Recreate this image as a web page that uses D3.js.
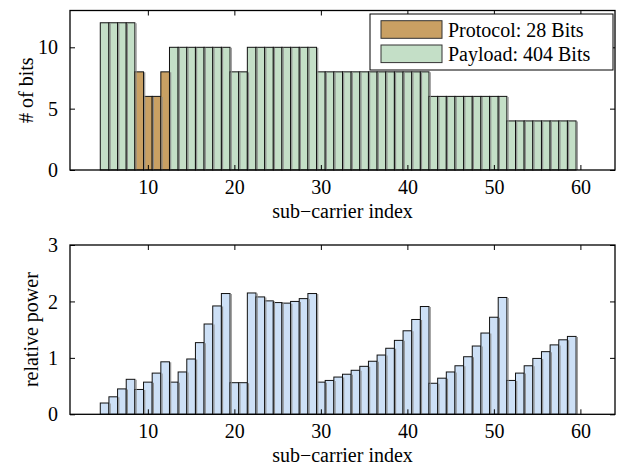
<!DOCTYPE html>
<html>
<head>
<meta charset="utf-8">
<script src="https://cdn.jsdelivr.net/npm/d3@7"></script>
<style>
  html, body { margin: 0; padding: 0; background: #fff; }
  svg { display: block; }
  text { font-family: "Liberation Serif", "Times New Roman", serif; fill: #000; }
</style>
</head>
<body>
<svg id="chart" width="620" height="469"></svg>
<script>
// ---- data ----
const subcarriers = d3.range(5, 60); // 5..59
const bitsPerCarrier = [12,12,12,12, 8,6,6,8, 10,10,10,10,10,10,10, 8,8,
  10,10,10,10,10,10,10,10, 8,8,8,8,8,8,8,8,8,8,8,8,8, 6,6,6,6,6,6,6,6,6, 4,4,4,4,4,4,4,4];
const protocolCarriers = [9, 10, 11, 12];
const relativePower = [0.20,0.31,0.45,0.62,0.44,0.57,0.73,0.93,0.57,0.75,0.98,1.27,1.60,1.92,2.14,
  0.56,0.56,2.15,2.08,2.01,1.98,1.97,2.00,2.05,2.14,
  0.57,0.60,0.66,0.71,0.78,0.85,0.94,1.05,1.17,1.31,1.48,1.68,1.91,
  0.55,0.64,0.75,0.86,1.02,1.21,1.44,1.72,2.07,
  0.60,0.73,0.86,0.99,1.11,1.23,1.32,1.38];
const xTicks = [10, 20, 30, 40, 50, 60];
const yTicksTop = [0, 5, 10];
const yTicksBottom = [0, 1, 2, 3];
const legendLabels = ["Protocol: 28 Bits", "Payload: 404 Bits"];
const xLabel = "sub\u2212carrier index";
const yLabelTop = "# of bits";
const yLabelBottom = "relative power";

// ---- styles ----
const colProtocol = "#c9a063";
const colPayload = "#c4dfc7";
const colPower = "#cde0f6";
const fontSize = 20;

const svg = d3.select("#chart");
const x = d3.scaleLinear().domain([1, 64]).range([70, 615]);

function panel(yScale, yTicks, values, colorFn, ylab, ylabX) {
  const [y0, y1] = yScale.range(); // bottom, top
  const g = svg.append("g");
  const bars = subcarriers.map((s, i) => ({ s, v: values[i] }));
  // bars
  g.selectAll("rect.bar").data(bars).join("rect")
    .attr("class", "bar")
    .attr("x", d => x(d.s - 0.5))
    .attr("width", d => x(d.s + 0.5) - x(d.s - 0.5))
    .attr("y", d => yScale(d.v))
    .attr("height", d => yScale(0) - yScale(d.v))
    .attr("fill", d => colorFn(d.s))
    .attr("stroke", "#111")
    .attr("stroke-width", 1);
  // shading line (drop shadow) right of each bar edge
  g.selectAll("line.sh").data(bars).join("line")
    .attr("class", "sh")
    .attr("x1", d => x(d.s + 0.5) + 1.2)
    .attr("x2", d => x(d.s + 0.5) + 1.2)
    .attr("y1", d => yScale(d.v) + 0.5)
    .attr("y2", d => yScale(0))
    .attr("stroke", "#8a8a8a")
    .attr("stroke-width", 1.1);

  // frame
  g.append("rect")
    .attr("x", x.range()[0]).attr("y", y1)
    .attr("width", x.range()[1] - x.range()[0]).attr("height", y0 - y1)
    .attr("fill", "none").attr("stroke", "#000").attr("stroke-width", 1.3);

  // inward ticks on all four sides
  const tl = 5;
  const axB = d3.axisBottom(x).tickValues(xTicks).tickSize(-tl).tickFormat(d3.format("d")).tickPadding(tl + 10);
  const axT = d3.axisTop(x).tickValues(xTicks).tickSize(-tl).tickFormat("");
  const axL = d3.axisLeft(yScale).tickValues(yTicks).tickSize(-tl).tickFormat(d3.format("d")).tickPadding(tl + 7);
  const axR = d3.axisRight(yScale).tickValues(yTicks).tickSize(-tl).tickFormat("");
  const gb = g.append("g").attr("transform", `translate(0,${y0})`).call(axB);
  const gt = g.append("g").attr("transform", `translate(0,${y1})`).call(axT);
  const gl = g.append("g").attr("transform", `translate(${x.range()[0]},0)`).call(axL);
  const gr = g.append("g").attr("transform", `translate(${x.range()[1]},0)`).call(axR);
  [gb, gt, gl, gr].forEach(a => {
    a.select(".domain").remove();
    a.selectAll("line").attr("stroke", "#000").attr("stroke-width", 1);
    a.selectAll("text").style("font-family", '"Liberation Serif", serif').style("font-size", fontSize + "px").attr("fill", "#000");
  });
  gb.selectAll("text").attr("dy", null).attr("y", 24).style("dominant-baseline", "alphabetic");
  gl.selectAll("text").attr("dy", "0.33em");

  // axis labels
  svg.append("text")
    .attr("x", (x.range()[0] + x.range()[1]) / 2)
    .attr("y", y0 + 48)
    .attr("text-anchor", "middle")
    .style("font-size", fontSize + "px")
    .text(xLabel);
  svg.append("text")
    .attr("transform", `translate(${ylabX},${(y0 + y1) / 2}) rotate(-90)`)
    .attr("text-anchor", "middle")
    .style("font-size", fontSize + "px")
    .text(ylab);
  return g;
}

const yTop = d3.scaleLinear().domain([0, 13]).range([170, 10.5]);
const yBot = d3.scaleLinear().domain([0, 3]).range([414.3, 245]);

panel(yTop, yTicksTop, bitsPerCarrier,
  s => protocolCarriers.includes(s) ? colProtocol : colPayload, yLabelTop, 33);
panel(yBot, yTicksBottom, relativePower, () => colPower, yLabelBottom, 38);

// legend
const lg = svg.append("g");
lg.append("rect").attr("x", 370).attr("y", 14).attr("width", 243).attr("height", 56)
  .attr("fill", "#fff").attr("stroke", "#000").attr("stroke-width", 1);
const legendColors = [colProtocol, colPayload];
legendLabels.forEach((lab, i) => {
  const cy = 29.5 + i * 24.3;
  lg.append("rect").attr("x", 381).attr("y", cy - 8.8).attr("width", 61).attr("height", 17.6)
    .attr("fill", legendColors[i]).attr("stroke", "#333").attr("stroke-width", 1);
  lg.append("text").attr("x", 448).attr("y", cy + 7)
    .style("font-size", fontSize + "px").text(lab);
});
</script>
</body>
</html>
